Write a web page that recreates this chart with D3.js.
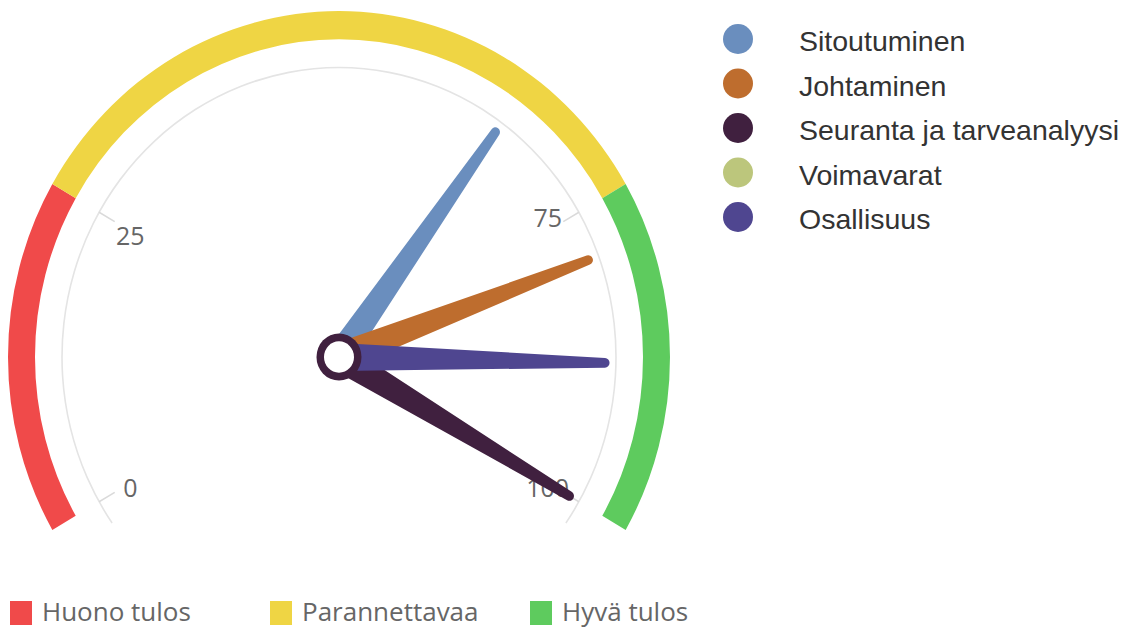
<!DOCTYPE html>
<html>
<head>
<meta charset="utf-8">
<script src="https://cdn.jsdelivr.net/npm/d3@7"></script>
<style>
  html, body { margin: 0; padding: 0; background: #fff; }
  svg { display: block; }
</style>
</head>
<body>
<svg id="chart" width="1127" height="628"></svg>
<script>
// ---- data ----
const seriesNames = ["Sitoutuminen", "Johtaminen", "Seuranta ja tarveanalyysi", "Voimavarat", "Osallisuus"];
const seriesValues = [65, 79, 100, null, 88];
const seriesColors = ["#6A8EBE", "#BE6D2E", "#40203F", "#BCC67C", "#4F4690"];

const bandNames = ["Huono tulos", "Parannettavaa", "Hyvä tulos"];
const bandFrom = [0, 25, 75];
const bandTo = [25, 75, 100];
const bandColors = ["#F04A4A", "#EFD544", "#5ECB5E"];

const tickValues = [0, 25, 75, 100];
const tickLabels = ["0", "25", "75", "100"];

// ---- layout ----
const svg = d3.select("#chart");
const cx = 339, cy = 357, sy = 1.045;
const rOuter = 331, rInner = 304, rAxis = 277, rTickIn = 259, rLabel = 241;
const needleLen = 266;
// small label nudges on the right-upper side (layout only)
const labelNudge = v => (v > 50 && v < 100 ? -14 : 4);

const angle = d3.scaleLinear().domain([0, 100]).range([-120, 120]); // degrees, 0 = up
const rad = d => d * Math.PI / 180;

const g = svg.append("g").attr("transform", `translate(${cx},${cy}) scale(1,${sy})`);

// bands
const bandArc = d3.arc().innerRadius(rInner).outerRadius(rOuter);
g.selectAll("path.band").data(bandNames).join("path")
  .attr("class", "band")
  .attr("d", (d, i) => bandArc({startAngle: rad(angle(bandFrom[i])), endAngle: rad(angle(bandTo[i]))}))
  .attr("fill", (d, i) => bandColors[i]);

// axis arc
g.append("path")
  .attr("d", d3.arc().innerRadius(rAxis - 0.8).outerRadius(rAxis + 0.8)({startAngle: rad(-125), endAngle: rad(125)}))
  .attr("fill", "#e4e4e4");

// ticks
const px = (v, r) => r * Math.sin(rad(angle(v)));
const py = (v, r) => -r * Math.cos(rad(angle(v)));
g.selectAll("line.tick").data(tickValues).join("line")
  .attr("x1", v => px(v, rAxis)).attr("y1", v => py(v, rAxis))
  .attr("x2", v => px(v, rTickIn)).attr("y2", v => py(v, rTickIn))
  .attr("stroke", "#dadada").attr("stroke-width", 1.5);

g.selectAll("text.tl").data(tickValues).join("text")
  .attr("class", "tl")
  .attr("x", v => px(v, rLabel))
  .attr("y", v => py(v, rLabel) + labelNudge(v))
  .attr("text-anchor", "middle")
  .attr("dominant-baseline", "central")
  .attr("font-family", "'Open Sans', sans-serif")
  .attr("font-size", 25)
  .attr("fill", "#666")
  .text((v, i) => tickLabels[i]);

// needles
const bw = 13.5, tw = 4.6;
const needle = `M ${-bw},0 L ${-tw},${-needleLen} A ${tw} ${tw} 0 0 1 ${tw},${-needleLen} L ${bw},0 A ${bw} ${bw} 0 0 1 ${-bw},0 Z`;
const nd = seriesNames.map((n, i) => ({name: n, value: seriesValues[i], color: seriesColors[i]}))
  .filter(d => d.value !== null && d.value !== undefined);
g.selectAll("path.needle").data(nd).join("path")
  .attr("class", "needle")
  .attr("d", needle)
  .attr("transform", d => `rotate(${angle(d.value)})`)
  .attr("fill", d => d.color);

// pivot
g.append("circle").attr("r", 22.5).attr("fill", seriesColors[2]);
g.append("circle").attr("r", 15).attr("fill", "#fff");

// bottom legend (bands)
const bl = svg.append("g");
const bItem = bl.selectAll("g").data(bandNames).join("g")
  .attr("transform", (d, i) => `translate(${10 + i * 260},601)`);
bItem.append("rect").attr("width", 22).attr("height", 24).attr("fill", (d, i) => bandColors[i]);
bItem.append("text")
  .attr("x", 32).attr("y", 20)
  .attr("font-family", "'Open Sans', sans-serif")
  .attr("font-size", 26)
  .attr("fill", "#666")
  .text(d => d);

// right legend (series)
const rl = svg.append("g");
const rItem = rl.selectAll("g").data(seriesNames).join("g")
  .attr("transform", (d, i) => `translate(738,${39 + i * 44.5})`);
rItem.append("circle").attr("r", 15).attr("fill", (d, i) => seriesColors[i]);
rItem.append("text")
  .attr("x", 61).attr("y", 12)
  .attr("font-family", "'Liberation Sans', Arial, sans-serif")
  .attr("font-size", 28.5)
  .attr("fill", "#333")
  .text(d => d);
</script>
</body>
</html>
